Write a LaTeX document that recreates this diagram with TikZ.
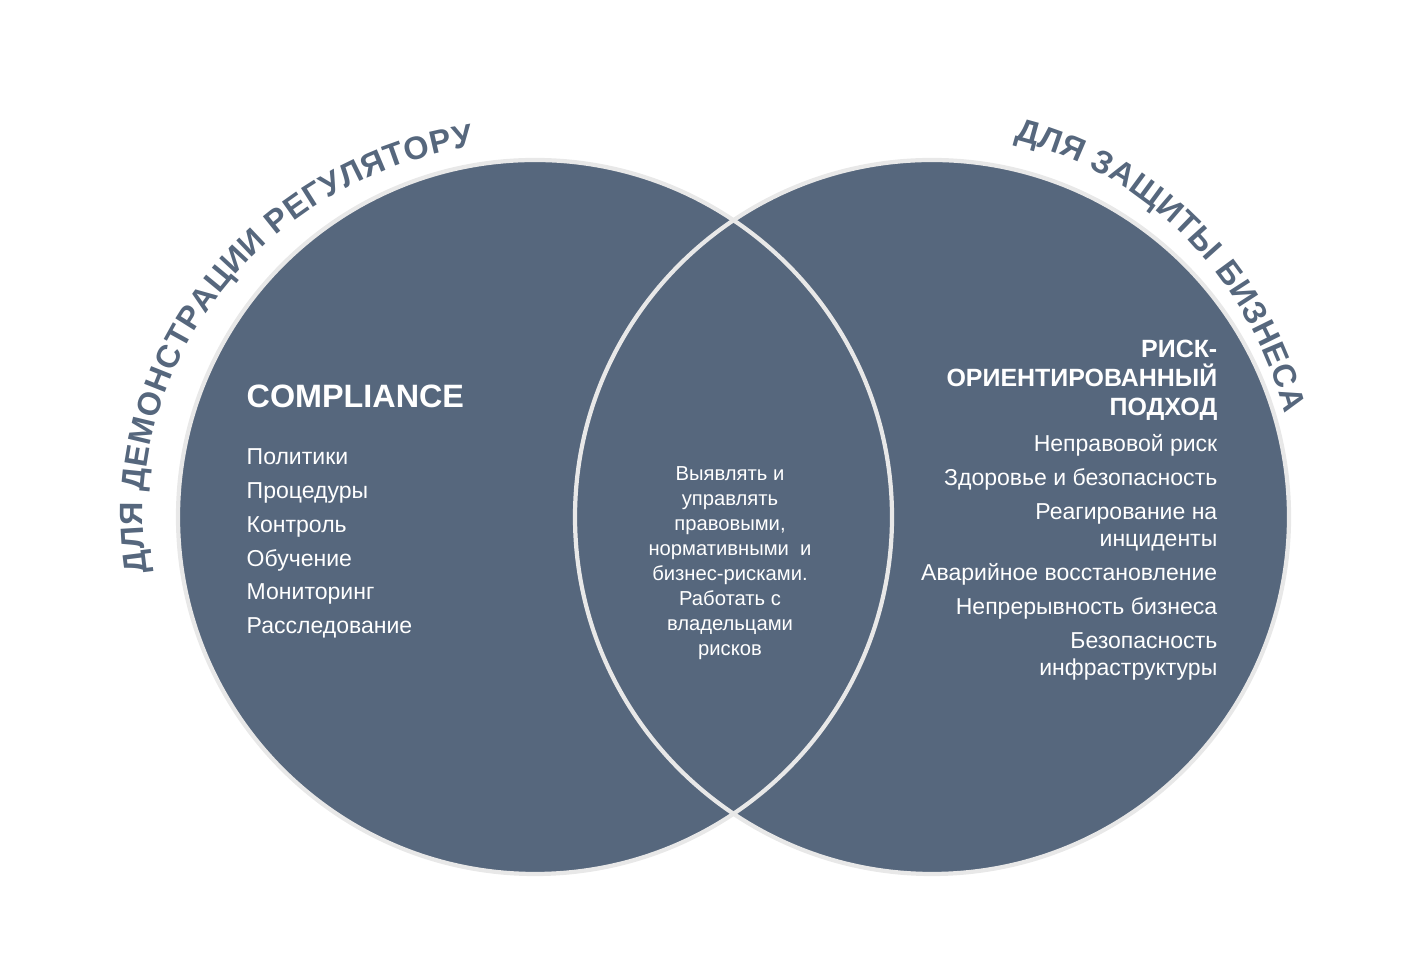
\documentclass[tikz,border=0pt]{standalone}
\usepackage{fontspec}
\setmainfont{Liberation Sans}
\usetikzlibrary{decorations.text}

\definecolor{slate}{RGB}{86,103,125}
\definecolor{rim}{RGB}{232,232,232}

\begin{document}
\begin{tikzpicture}[
    rimline/.style={draw=rim,line width=1.2pt},
    headtext/.style={text=white,inner sep=0pt,font=\fontsize{9.2}{11}\selectfont\bfseries},
    risktext/.style={text=white,inner sep=0pt,anchor=base east,font=\fontsize{7.1}{9}\selectfont\bfseries},
    itemtext/.style={text=white,inner sep=0pt,font=\fontsize{6.55}{8}\selectfont},
    midtext/.style={text=white,inner sep=0pt,anchor=base,font=\fontsize{5.75}{7}\selectfont},
    arch/.style={decorate,decoration={text along path,text align=fit to path,text color=slate,
        text={|\fontsize{9.2}{11}\selectfont\bfseries|#1}}}]

    \useasboundingbox (0,0) rectangle (14.06,9.62);

    % Centres of the two circles
    \coordinate (lc) at (5.35,4.45);
    \coordinate (rc) at (9.32,4.45);

    % Filled circles first, then both rims (so the lens shows both arcs)
    \fill [slate] (lc) circle (3.57);
    \fill [slate] (rc) circle (3.57);
    \draw [rimline] (lc) circle (3.57);
    \draw [rimline] (rc) circle (3.57);

    % Arched titles
    \path [arch={ДЛЯ ДЕМОНСТРАЦИИ РЕГУЛЯТОРУ}]
        ([shift={(188.5:3.92 and 3.75)}]lc) arc [start angle=188.5, end angle=99, x radius=3.92, y radius=3.75];
    \path [arch={ДЛЯ ЗАЩИТЫ БИЗНЕСА}]
        ([shift={(77:3.66 and 3.87)}]rc) arc [start angle=77, end angle=15.5, x radius=3.66, y radius=3.87];

    % Left circle: compliance
    \node [headtext,anchor=base west] (comp) at (2.46,5.54) {COMPLIANCE};
    \foreach \txt [count=\i] in {Политики,Процедуры,Контроль,Обучение,Мониторинг,Расследование}
        \node [itemtext,anchor=base west] (comp\i) at (2.46,{4.97-0.3375*(\i-1)}) {\txt};

    % Overlap
    \node [midtext] (mid1) at (7.30,4.81) {Выявлять и};
    \node [midtext] (mid2) at (7.30,4.56) {управлять};
    \node [midtext] (mid3) at (7.30,4.31) {правовыми,};
    \node [midtext] (mid4) at (7.30,4.06) {нормативными\ \ и};
    \node [midtext] (mid5) at (7.30,3.81) {бизнес-рисками.};
    \node [midtext] (mid6) at (7.30,3.56) {Работать с};
    \node [midtext] (mid7) at (7.30,3.31) {владельцами};
    \node [midtext] (mid8) at (7.30,3.06) {рисков};

    % Right circle: risk based approach
    \node [risktext] (risk1) at (12.18,6.04) {РИСК-};
    \node [risktext] (risk2) at (12.18,5.75) {ОРИЕНТИРОВАННЫЙ};
    \node [risktext] (risk3) at (12.18,5.46) {ПОДХОД};

    \node [itemtext,anchor=base east] (risk4) at (12.18,5.10) {Неправовой риск};
    \node [itemtext,anchor=base east] (risk5) at (12.18,4.76) {Здоровье и безопасность};
    \node [itemtext,anchor=base east] (risk6) at (12.18,4.42) {Реагирование на};
    \node [itemtext,anchor=base east] (risk7) at (12.18,4.15) {инциденты};
    \node [itemtext,anchor=base east] (risk8) at (12.18,3.81) {Аварийное восстановление};
    \node [itemtext,anchor=base east] (risk9) at (12.18,3.47) {Непрерывность бизнеса};
    \node [itemtext,anchor=base east] (risk10) at (12.18,3.13) {Безопасность};
    \node [itemtext,anchor=base east] (risk11) at (12.18,2.86) {инфраструктуры};

\end{tikzpicture}
\end{document}
